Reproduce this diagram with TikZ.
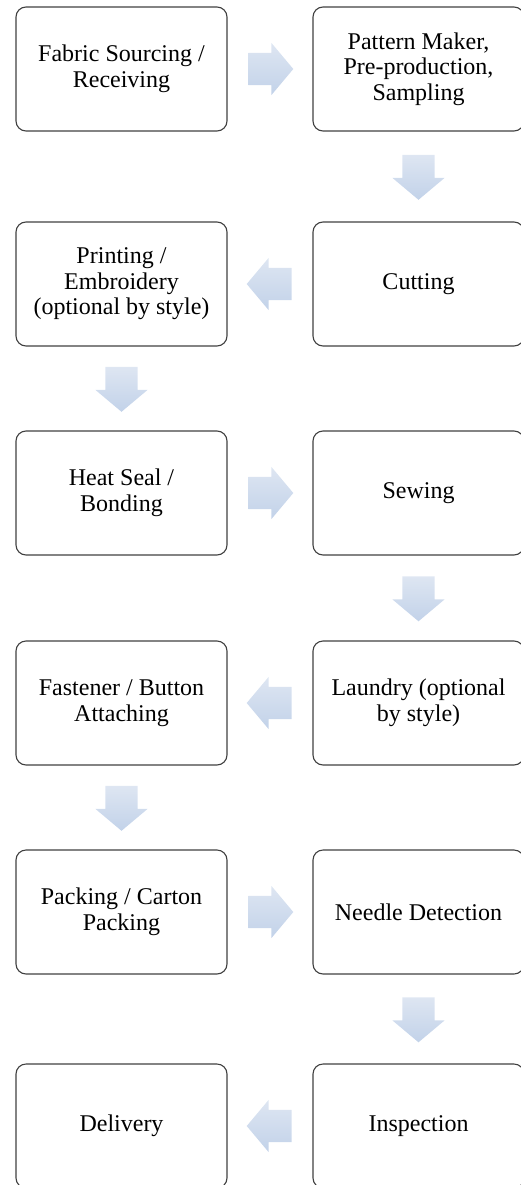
\documentclass[tikz,border=0pt]{standalone}
\usepackage{fontspec}
\setmainfont{Liberation Serif}
\usetikzlibrary{shapes.arrows,calc}

\definecolor{boxline}{RGB}{64,64,64}
\definecolor{arrowtop}{RGB}{222,230,242}
\definecolor{arrowbot}{RGB}{194,210,233}

\tikzset{
  stage/.style={draw=boxline, line width=1.1pt, rounded corners=10pt,
    minimum width=211pt, minimum height=124pt, inner sep=0pt,
    align=center, font=\fontsize{24}{25.5}\selectfont},
  flowarrow/.style={single arrow, draw=none, minimum height=45pt,
    single arrow head extend=10pt, single arrow tip angle=100,
    top color=arrowtop, bottom color=arrowbot},
  arrh/.style={flowarrow, inner xsep=0pt, inner ysep=16pt},
  arrv/.style={flowarrow, inner xsep=16pt, inner ysep=0pt}
}

\begin{document}
\begin{tikzpicture}[x=1pt, y=-1pt]
  \useasboundingbox (0,0) rectangle (520,1185);
  % stages, left and right column
  \node[stage] (fab)  at (121.5,69)   {Fabric Sourcing /\\Receiving};
  \node[stage] (pat)  at (418.5,69)   {Pattern Maker,\\Pre-production,\\Sampling};
  \node[stage] (prt)  at (121.5,284)  {Printing /\\Embroidery\\(optional by style)};
  \node[stage] (cut)  at (418.5,284)  {Cutting};
  \node[stage] (heat) at (121.5,493)  {Heat Seal /\\Bonding};
  \node[stage] (sew)  at (418.5,493)  {Sewing};
  \node[stage] (fst)  at (121.5,703)  {Fastener / Button\\Attaching};
  \node[stage] (lau)  at (418.5,703)  {Laundry (optional\\by style)};
  \node[stage] (pck)  at (121.5,912)  {Packing / Carton\\Packing};
  \node[stage] (ndl)  at (418.5,912)  {Needle Detection};
  \node[stage] (dlv)  at (121.5,1126) {Delivery};
  \node[stage] (ins)  at (418.5,1126) {Inspection};
  % block arrows between stages
  \foreach \a/\b/\r/\s [count=\i] in {fab/pat/0/arrh, pat/cut/270/arrv,
      cut/prt/180/arrh, prt/heat/270/arrv, heat/sew/0/arrh, sew/lau/270/arrv,
      lau/fst/180/arrh, fst/pck/270/arrv, pck/ndl/0/arrh, ndl/ins/270/arrv,
      ins/dlv/180/arrh}
    \node[\s, shape border rotate=\r, shift={(\r+180:6pt)}] (arr\i)
      at ($(\a)!0.5!(\b)$) {};
\end{tikzpicture}
\end{document}
